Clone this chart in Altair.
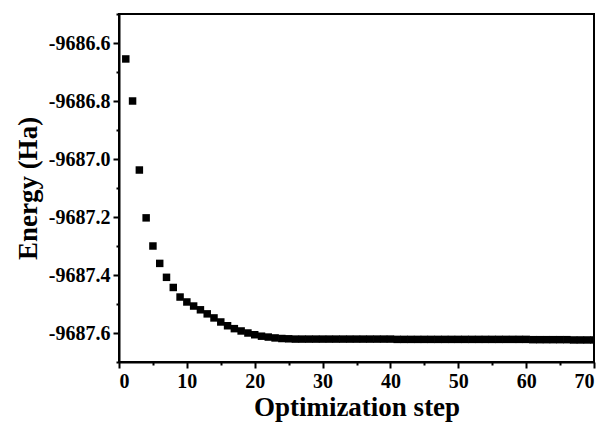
import altair as alt
import pandas as pd

steps = list(range(1, 71))
energy = [
    -9686.655, -9686.800, -9687.038, -9687.203, -9687.300,
    -9687.360, -9687.408, -9687.443, -9687.476, -9687.493,
    -9687.507, -9687.520, -9687.534, -9687.548, -9687.562,
    -9687.575, -9687.585, -9687.593, -9687.600, -9687.606,
    -9687.611, -9687.614, -9687.617, -9687.619, -9687.620,
    -9687.621, -9687.621, -9687.621, -9687.621, -9687.621,
    -9687.621, -9687.621, -9687.621, -9687.621, -9687.621,
    -9687.621, -9687.621, -9687.621, -9687.621, -9687.621,
    -9687.622, -9687.622, -9687.622, -9687.622, -9687.622,
    -9687.622, -9687.622, -9687.622, -9687.622, -9687.622,
    -9687.622, -9687.622, -9687.622, -9687.622, -9687.622,
    -9687.622, -9687.622, -9687.622, -9687.622, -9687.622,
    -9687.623, -9687.623, -9687.623, -9687.623, -9687.623,
    -9687.623, -9687.624, -9687.624, -9687.624, -9687.624,
]
x_ticks = [0, 5, 10, 15, 20, 25, 30, 35, 40, 45, 50, 55, 60, 65, 70]
y_ticks = [-9687.7, -9687.6, -9687.5, -9687.4, -9687.3, -9687.2, -9687.1,
           -9687.0, -9686.9, -9686.8, -9686.7, -9686.6, -9686.5]

df = pd.DataFrame({"step": steps, "energy": energy})

FONT = "Liberation Serif"

xscale = alt.Scale(domain=[0, 70], nice=False)
yscale = alt.Scale(domain=[-9687.7, -9686.5], nice=False, zero=False)

x_axis = alt.Axis(
    values=x_ticks,
    title="Optimization step",
    labelExpr="datum.value % 10 === 0 ? datum.label : ''",
    tickSize={"condition": {"test": "datum.value % 10 !== 0", "value": 3}, "value": 6},
    grid=False,
    titlePadding=3,
)
y_axis = alt.Axis(
    values=y_ticks,
    title="Energy (Ha)",
    format=".1f",
    labelExpr="abs(round(datum.value * 10)) % 2 === 0 ? replace(datum.label, '\u2212', '-') : ''",
    tickSize={"condition": {"test": "abs(round(datum.value * 10)) % 2 !== 0", "value": 3}, "value": 6},
    grid=False,
    titlePadding=6,
)

chart = alt.Chart(df).mark_point(
    shape="square", filled=True, size=56, color="black", opacity=1, clip=True
).encode(
    x=alt.X("step:Q", scale=xscale, axis=x_axis),
    y=alt.Y("energy:Q", scale=yscale, axis=y_axis),
).properties(
    width=475,
    height=348,
    background="white",
    autosize=alt.AutoSizeParams(type="none"),
    padding={"left": 119, "top": 14, "right": 11, "bottom": 68},
).configure_view(
    stroke="black", strokeWidth=2
).configure_axis(
    labelFont=FONT, labelFontWeight="bold", labelFontSize=20, labelColor="black",
    titleFont=FONT, titleFontWeight="bold", titleFontSize=27, titleColor="black",
    domainColor="black", domainWidth=2, tickColor="black", tickWidth=2,
    labelPadding=3,
)

chart.save("out.html", embed_options={"renderer": "svg", "actions": False})
